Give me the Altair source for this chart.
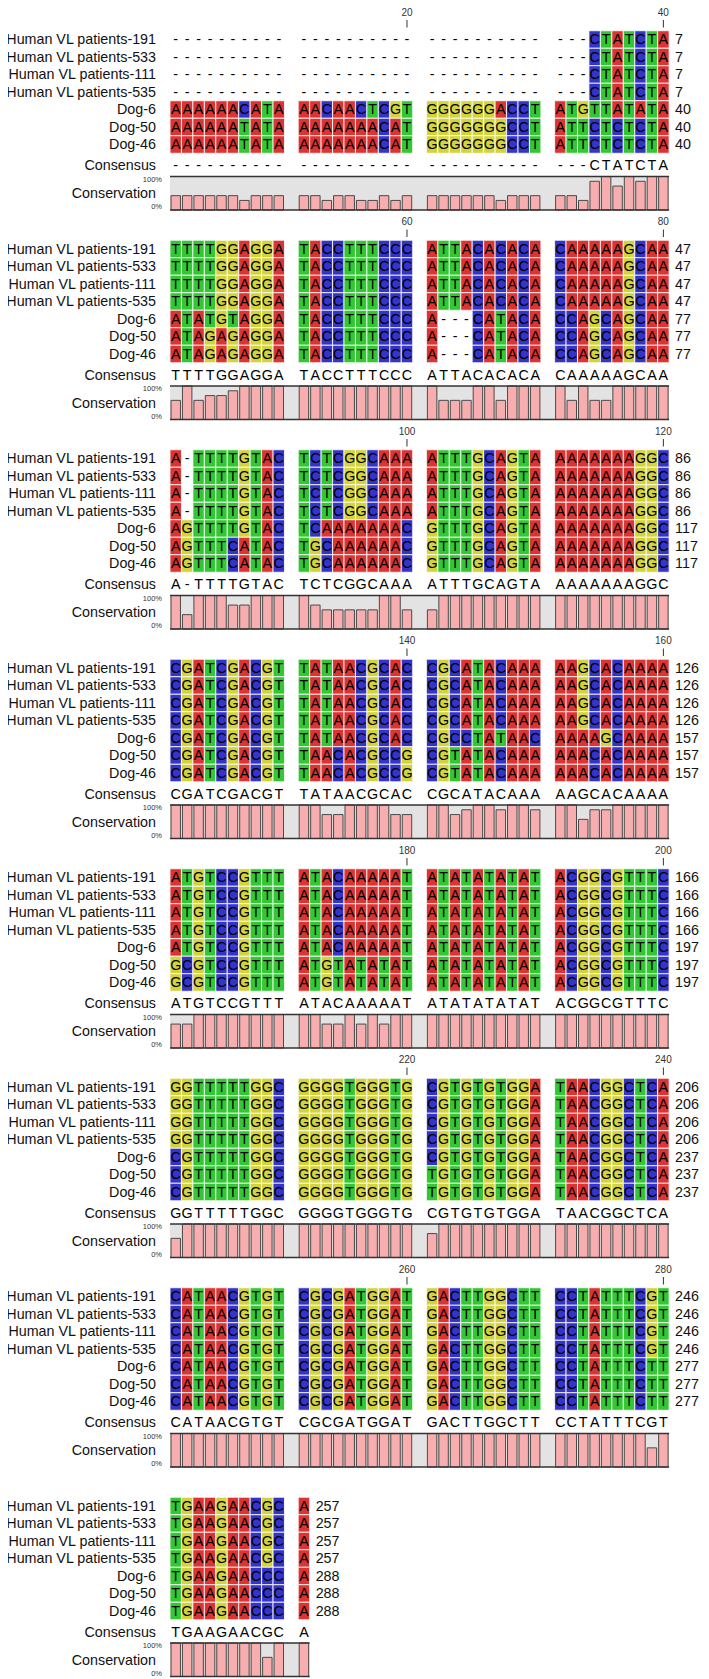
import altair as alt
import pandas as pd

# ---------------- data ----------------
NAMES = ["Human VL patients-191", "Human VL patients-533", "Human VL patients-111",
         "Human VL patients-535", "Dog-6", "Dog-50", "Dog-46"]

SEQ_HUMAN_191 = ("---------- ---------- ---------- ---CTATCTA "
                 "TTTTGGAGGA TACCTTTCCC ATTACACACA CAAAAAGCAA "
                 "A-TTTTGTAC TCTCGGCAAA ATTTGCAGTA AAAAAAAGGC "
                 "CGATCGACGT TATAACGCAC CGCATACAAA AAGCACAAAA "
                 "ATGTCCGTTT ATACAAAAAT ATATATATAT ACGGCGTTTC "
                 "GGTTTTTGGC GGGGTGGGTG CGTGTGTGGA TAACGGCTCA "
                 "CATAACGTGT CGCGATGGAT GACTTGGCTT CCTATTTCGT "
                 "TGAAGAACGC A")
SEQ_HUMAN_533 = ("---------- ---------- ---------- ---CTATCTA "
                 "TTTTGGAGGA TACCTTTCCC ATTACACACA CAAAAAGCAA "
                 "A-TTTTGTAC TCTCGGCAAA ATTTGCAGTA AAAAAAAGGC "
                 "CGATCGACGT TATAACGCAC CGCATACAAA AAGCACAAAA "
                 "ATGTCCGTTT ATACAAAAAT ATATATATAT ACGGCGTTTC "
                 "GGTTTTTGGC GGGGTGGGTG CGTGTGTGGA TAACGGCTCA "
                 "CATAACGTGT CGCGATGGAT GACTTGGCTT CCTATTTCGT "
                 "TGAAGAACGC A")
SEQ_HUMAN_111 = ("---------- ---------- ---------- ---CTATCTA "
                 "TTTTGGAGGA TACCTTTCCC ATTACACACA CAAAAAGCAA "
                 "A-TTTTGTAC TCTCGGCAAA ATTTGCAGTA AAAAAAAGGC "
                 "CGATCGACGT TATAACGCAC CGCATACAAA AAGCACAAAA "
                 "ATGTCCGTTT ATACAAAAAT ATATATATAT ACGGCGTTTC "
                 "GGTTTTTGGC GGGGTGGGTG CGTGTGTGGA TAACGGCTCA "
                 "CATAACGTGT CGCGATGGAT GACTTGGCTT CCTATTTCGT "
                 "TGAAGAACGC A")
SEQ_HUMAN_535 = ("---------- ---------- ---------- ---CTATCTA "
                 "TTTTGGAGGA TACCTTTCCC ATTACACACA CAAAAAGCAA "
                 "A-TTTTGTAC TCTCGGCAAA ATTTGCAGTA AAAAAAAGGC "
                 "CGATCGACGT TATAACGCAC CGCATACAAA AAGCACAAAA "
                 "ATGTCCGTTT ATACAAAAAT ATATATATAT ACGGCGTTTC "
                 "GGTTTTTGGC GGGGTGGGTG CGTGTGTGGA TAACGGCTCA "
                 "CATAACGTGT CGCGATGGAT GACTTGGCTT CCTATTTCGT "
                 "TGAAGAACGC A")
SEQ_DOG_6 = ("AAAAAACATA AACAACTCGT GGGGGGACCT ATGTTATATA "
             "ATATGTAGGA TACCTTTCCC A---CATACA CCAGCAGCAA "
             "AGTTTTGTAC TCAAAAAAAC GTTTGCAGTA AAAAAAAGGC "
             "CGATCGACGT TATAACGCAC CGCCTATAAC AAAAGCAAAA "
             "ATGTCCGTTT ATACAAAAAT ATATATATAT ACGGCGTTTC "
             "CGTTTTTGGC GGGGTGGGTG CGTGTGTGGA TAACGGCTCA "
             "CATAACGTGT CGCGATGGAT GACTTGGCTT CCTATTTCTT "
             "TGAAGAACCC A")
SEQ_DOG_50 = ("AAAAAATATA AAAAAAACAT GGGGGGGCCT ATTCTCTCTA "
              "ATAGAGAGGA TACCTTTCCC A---CATACA CCAGCAGCAA "
              "AGTTTCATAC TGCAAAAAAC GTTTGCAGTA AAAAAAAGGC "
              "CGATCGACGT TAACACGCCG CGTATACAAA AAACACAAAA "
              "GCGTCCGTTT ATGTATATAT ATATATATAT ACGGCGTTTC "
              "CGTTTTTGGC GGGGTGGGTG TGTGTGTGGA TAACGGCTCA "
              "CATAACGTGT CGCGATGGAT GACTTGGCTT CCTATTTCTT "
              "TGAAGAACCC A")
SEQ_DOG_46 = ("AAAAAATATA AAAAAAACAT GGGGGGGCCT ATTCTCTCTA "
              "ATAGAGAGGA TACCTTTCCC A---CATACA CCAGCAGCAA "
              "AGTTTCATAC TGCAAAAAAC GTTTGCAGTA AAAAAAAGGC "
              "CGATCGACGT TAACACGCCG CGTATACAAA AAACACAAAA "
              "GCGTCCGTTT ATGTATATAT ATATATATAT ACGGCGTTTC "
              "CGTTTTTGGC GGGGTGGGTG TGTGTGTGGA TAACGGCTCA "
              "CATAACGTGT CGCGATGGAT GACTTGGCTT CCTATTTCTT "
              "TGAAGAACCC A")
SEQUENCES = [SEQ_HUMAN_191, SEQ_HUMAN_533, SEQ_HUMAN_111, SEQ_HUMAN_535,
             SEQ_DOG_6, SEQ_DOG_50, SEQ_DOG_46]

CONSENSUS = ("---------- ---------- ---------- ---CTATCTA "
             "TTTTGGAGGA TACCTTTCCC ATTACACACA CAAAAAGCAA "
             "A-TTTTGTAC TCTCGGCAAA ATTTGCAGTA AAAAAAAGGC "
             "CGATCGACGT TATAACGCAC CGCATACAAA AAGCACAAAA "
             "ATGTCCGTTT ATACAAAAAT ATATATATAT ACGGCGTTTC "
             "GGTTTTTGGC GGGGTGGGTG CGTGTGTGGA TAACGGCTCA "
             "CATAACGTGT CGCGATGGAT GACTTGGCTT CCTATTTCGT "
             "TGAAGAACGC A")

# conservation bar heights, in sevenths of full height
CONSERVATION_SEVENTHS = ("3333332333 3323322323 3333332333 3326757677 "
                         "4745567777 7777777777 7444774777 7474477777 "
                         "7377755777 7544444774 4777777777 7777777777 "
                         "7777777777 7755777755 7756776776 7746677777 "
                         "5577777777 7755757577 7777777777 7777777777 "
                         "4777777777 7777777777 5777777777 7777777777 "
                         "7777777777 7777777777 7777777777 7777777747 "
                         "7777777747 7")

END_NUMBERS_HUMAN = [7, 47, 86, 126, 166, 206, 246, 257]
END_NUMBERS_DOG = [40, 77, 117, 157, 197, 237, 277, 288]
END_NUMBERS = [END_NUMBERS_HUMAN] * 4 + [END_NUMBERS_DOG] * 3

TICK_POSITIONS = [20, 40, 60, 80, 100, 120, 140, 160, 180, 200, 220, 240, 260, 280]

BASES = ["A", "C", "G", "T"]
BASE_COLORS = ["#dc3333", "#3434c8", "#d3d33c", "#33c833"]

# ---------------- layout ----------------
W, H = 693, 1671
LABEL_RIGHT = 148
CELL_LEFT = 162
CELL = 11.45
GROUP_GAP = 13.7
ROW = 17.5
FIRST_ROW_Y = 31.5
BLOCK_PITCH = 209.5
CONS_DY = 126
BAND_TOP_DY = 137
BAND_BOT_DY = 170.5
NUM_DX = 6
FONT = "Liberation Sans"


def col_x(i):
    return CELL_LEFT + i * CELL + (i // 10) * GROUP_GAP


def blocks_of(s):
    g = s.split()
    return ["".join(g[j:j + 4]) for j in range(0, len(g), 4)]


cells, labels, numbers, cons_txt, bars, bands, ticks, side = [], [], [], [], [], [], [], []
for r, (name, seq) in enumerate(zip(NAMES, SEQUENCES)):
    for b, blk in enumerate(blocks_of(seq)):
        base_y = FIRST_ROW_Y + b * BLOCK_PITCH
        yc = base_y + r * ROW
        for i, ch in enumerate(blk):
            x0 = col_x(i)
            cells.append(dict(x0=x0, x1=x0 + CELL, xc=x0 + CELL / 2, y0=yc - ROW / 2,
                              y1=yc + ROW / 2, yc=yc + 0.5, ch=ch, base=ch,
                              filled=ch in BASES))
        labels.append(dict(x=LABEL_RIGHT, y=yc + 0.5, t=name))
        numbers.append(dict(x=col_x(len(blk) - 1) + CELL + NUM_DX, y=yc + 0.5,
                            t=str(END_NUMBERS[r][b])))

cons_blocks = blocks_of(CONSENSUS)
consv_blocks = blocks_of(CONSERVATION_SEVENTHS)
for b, (cblk, vblk) in enumerate(zip(cons_blocks, consv_blocks)):
    base_y = FIRST_ROW_Y + b * BLOCK_PITCH
    for i, ch in enumerate(cblk):
        cons_txt.append(dict(x=col_x(i) + CELL / 2, y=base_y + CONS_DY + 0.5, t=ch))
    top, bot = base_y + BAND_TOP_DY, base_y + BAND_BOT_DY
    for i, v in enumerate(vblk):
        frac = int(v) / 7.0
        bars.append(dict(x0=col_x(i) + 1, x1=col_x(i) + CELL - 1,
                         y0=bot, y1=bot - frac * (bot - top)))
    bands.append(dict(x0=CELL_LEFT, x1=col_x(len(cblk) - 1) + CELL, y0=top, y1=bot))
    side.append(dict(x=LABEL_RIGHT, y=base_y + CONS_DY + 0.5, t="Consensus", s=14.3))
    side.append(dict(x=LABEL_RIGHT, y=(top + bot) / 2 + 1, t="Conservation", s=14.3))
    side.append(dict(x=LABEL_RIGHT + 6, y=top + 3, t="100%", s=7.5))
    side.append(dict(x=LABEL_RIGHT + 6, y=bot - 3, t="0%", s=7.5))

for n in TICK_POSITIONS:
    b, i = (n - 1) // 40, (n - 1) % 40
    base_y = FIRST_ROW_Y + b * BLOCK_PITCH
    xc = col_x(i) + CELL / 2
    ticks.append(dict(x=xc, y0=base_y - 19.5, y1=base_y - 12, yt=base_y - 27, t=str(n)))

xs = alt.Scale(domain=[0, W], nice=False, zero=False)
ys = alt.Scale(domain=[0, H], nice=False, zero=False, reverse=True)


def X(f):
    return alt.X(f, type="quantitative", scale=xs, axis=None)


def Y(f):
    return alt.Y(f, type="quantitative", scale=ys, axis=None)


cells_df = pd.DataFrame(cells)
filled_df = cells_df[cells_df.filled]

cell_rects = alt.Chart(filled_df).mark_rect(stroke="white", strokeWidth=1, strokeOpacity=0.8).encode(
    x=X("x0"), x2="x1", y=Y("y0"), y2="y1",
    color=alt.Color("base:N", scale=alt.Scale(domain=BASES, range=BASE_COLORS), legend=None))

cell_text = alt.Chart(cells_df).mark_text(font=FONT, fontSize=14.3, baseline="middle",
                                          align="center", color="#000000").encode(
    x=X("xc"), y=Y("yc"), text="ch:N")

label_text = alt.Chart(pd.DataFrame(labels)).mark_text(font=FONT, fontSize=14.3, baseline="middle",
                                                        align="right", color="#111111").encode(
    x=X("x"), y=Y("y"), text="t:N")

num_text = alt.Chart(pd.DataFrame(numbers)).mark_text(font=FONT, fontSize=14.3, baseline="middle",
                                                       align="left", color="#111111").encode(
    x=X("x"), y=Y("y"), text="t:N")

cons_text = alt.Chart(pd.DataFrame(cons_txt)).mark_text(font=FONT, fontSize=14.3, baseline="middle",
                                                         align="center", color="#000000").encode(
    x=X("x"), y=Y("y"), text="t:N")

side_df = pd.DataFrame(side)
side_big = alt.Chart(side_df[side_df.s > 10]).mark_text(font=FONT, fontSize=14.3, baseline="middle",
                                                         align="right", color="#111111").encode(
    x=X("x"), y=Y("y"), text="t:N")
side_small = alt.Chart(side_df[side_df.s < 10]).mark_text(font=FONT, fontSize=7.5, baseline="middle",
                                                           align="right", color="#333333").encode(
    x=X("x"), y=Y("y"), text="t:N")

bands_df = pd.DataFrame(bands)
band_bg = alt.Chart(bands_df).mark_rect(color="#e3e3e3").encode(
    x=X("x0"), x2="x1", y=Y("y0"), y2="y1")
band_top = alt.Chart(bands_df).mark_rule(color="#333333", strokeWidth=1.3).encode(
    x=X("x0"), x2="x1", y=Y("y0"))
band_bot = alt.Chart(bands_df).mark_rule(color="#333333", strokeWidth=1.3).encode(
    x=X("x0"), x2="x1", y=Y("y1"))

bar_rects = alt.Chart(pd.DataFrame(bars)).mark_rect(color="#f8adae", stroke="#4a4a4a",
                                                    strokeWidth=1).encode(
    x=X("x0"), x2="x1", y=Y("y0"), y2="y1")

ticks_df = pd.DataFrame(ticks)
tick_rules = alt.Chart(ticks_df).mark_rule(color="#333333", strokeWidth=1).encode(
    x=X("x"), y=Y("y0"), y2="y1")
tick_text = alt.Chart(ticks_df).mark_text(font=FONT, fontSize=10, baseline="middle",
                                          align="center", color="#333333").encode(
    x=X("x"), y=Y("yt"), text="t:N")

chart = alt.layer(
    cell_rects, cell_text, label_text, num_text, cons_text,
    band_bg, bar_rects, band_top, band_bot, side_big, side_small,
    tick_rules, tick_text
).properties(
    width=W, height=H, padding=0, autosize=alt.AutoSizeParams(type="none")
).configure_view(stroke=None)

chart.save("out.html", embed_options={"renderer": "svg", "actions": False})
